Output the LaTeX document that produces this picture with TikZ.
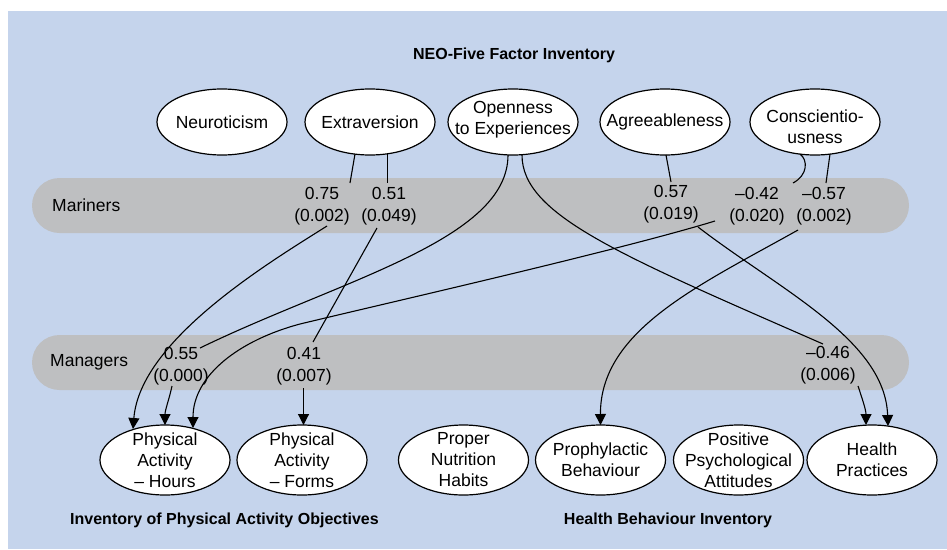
\documentclass[tikz,border=0pt]{standalone}
\usepackage{fontspec}
\setmainfont{Liberation Sans}
\usetikzlibrary{shapes.geometric,arrows.meta}
\definecolor{panelblue}{RGB}{197,212,236}
\definecolor{bandgray}{RGB}{190,191,193}
\begin{document}
\begin{tikzpicture}[x=1pt,y=-1pt,
  txt/.style={font=\fontsize{17.5}{21}\selectfont, inner sep=0pt, align=center},
  coef/.style={font=\fontsize{17.5}{22}\selectfont, inner sep=0pt, align=center},
  ttl/.style={font=\fontsize{16}{19}\selectfont\bfseries, inner sep=0pt},
  trait/.style={ellipse, draw=black, fill=white, line width=1.2pt,
    minimum width=130pt, minimum height=66pt, inner sep=0pt},
  outcome/.style={trait, minimum height=70pt},
  band/.style={fill=bandgray, rounded corners=27.5pt, minimum width=877pt,
    minimum height=55pt, inner sep=0pt},
  link/.style={line width=1.1pt},
  arr/.style={link, -{Triangle[length=11pt,width=11pt]}},
]
\useasboundingbox (0,0) rectangle (947,549);
\fill[panelblue] (8,11) rectangle (947,549);

% group bands
\node[band] (marband) at (470.5,205.5) {};
\node[band] (manband) at (470.5,362.5) {};
\node[txt, anchor=west] (marlbl) at (52,205) {Mariners};
\node[txt, anchor=west] (manlbl) at (50,362) {Managers};

% titles
\node[ttl] (neo) at (514,55) {NEO-Five Factor Inventory};
\node[ttl] (ipao) at (224.5,520) {Inventory of Physical Activity Objectives};
\node[ttl] (hbi) at (668,520) {Health Behaviour Inventory};

% personality traits
\node[trait, label={[txt]center:Neuroticism}] (neu) at (222,122) {};
\node[trait, label={[txt]center:Extraversion}] (ext) at (370,122) {};
\node[trait, label={[txt,yshift=2pt]center:{Openness\\to Experiences}}] (opn) at (513,122) {};
\node[trait, label={[txt]center:Agreeableness}] (agr) at (665,122) {};
\node[trait, label={[txt,yshift=-4.5pt]center:{Conscientio-\\usness}}] (con) at (815,122) {};

% outcome scales
\node[outcome, label={[txt]center:{Physical\\Activity\\– Hours}}] (hours) at (165,460) {};
\node[outcome, label={[txt]center:{Physical\\Activity\\– Forms}}] (forms) at (302,460) {};
\node[outcome, label={[txt]center:{Proper\\Nutrition\\Habits}}] (nutr) at (463.5,460) {};
\node[outcome, label={[txt]center:{Prophylactic\\Behaviour}}] (proph) at (600.5,460) {};
\node[outcome, label={[txt]center:{Positive\\Psychological\\Attitudes}}] (posi) at (738.5,460) {};
\node[outcome, label={[txt]center:{Health\\Practices}}] (prac) at (872,460) {};

% coefficients (p-values)
\node[coef] (c075) at (322,206) {0.75\\(0.002)};
\node[coef] (c051) at (389,206) {0.51\\(0.049)};
\node[coef] (c057) at (671,204) {0.57\\(0.019)};
\node[coef] (c042) at (757,206) {–0.42\\(0.020)};
\node[coef] (c057n) at (824,206) {–0.57\\(0.002)};
\node[coef] (c055) at (181,366) {0.55\\(0.000)};
\node[coef] (c041) at (304,366) {0.41\\(0.007)};
\node[coef] (c046) at (828,365) {–0.46\\(0.006)};

% Extraversion
\draw[link] ([shift={(-15,32)}]ext.center) -- ([shift={(28,-23)}]c075.center);
\draw[arr] ([shift={(5,20)}]c075.center) .. controls (270,262) and (140,340) .. ([shift={(-32,-31)}]hours.center);
\draw[link] ([shift={(17.5,32)}]ext.center) -- ([shift={(-1.5,-23)}]c051.center);
\draw[link] ([shift={(-12,22)}]c051.center) -- ([shift={(9,-24)}]c041.center);
\draw[arr] ([shift={(-0.5,22)}]c041.center) -- ([shift={(1.5,-35)}]forms.center);

% Openness to Experiences
\draw[link] ([shift={(-5,33)}]opn.center) .. controls (508,240) and (340,280) .. ([shift={(19,-18)}]c055.center);
\draw[arr] ([shift={(-9,20)}]c055.center) .. controls (169,400) and (165,410) .. ([shift={(0,-35)}]hours.center);
\draw[link] ([shift={(9,33)}]opn.center) .. controls (522,215) and (620,255) .. ([shift={(-5,-21)}]c046.center);
\draw[arr] ([shift={(30,21)}]c046.center) .. controls (862,398) and (866,410) .. ([shift={(-6,-35)}]prac.center);

% Agreeableness
\draw[link] ([shift={(1,33)}]agr.center) -- ([shift={(0,-22)}]c057.center);
\draw[arr] ([shift={(27,23)}]c057.center) .. controls (780,290) and (885,340) .. ([shift={(16,-34)}]prac.center);

% Conscientiousness
\draw[link] ([shift={(-15,32)}]con.center) .. controls (808,160) and (808,175) .. ([shift={(36,-23)}]c042.center);
\draw[arr] ([shift={(-42,15)}]c042.center) .. controls (620,250) and (400,300) .. (300,324)
  .. controls (240,340) and (193,375) .. ([shift={(28,-32)}]hours.center);
\draw[link] ([shift={(15,32)}]con.center) -- ([shift={(2,-23)}]c057n.center);
\draw[arr] ([shift={(-26,24)}]c057n.center) .. controls (700,285) and (600,330) .. ([shift={(0,-35)}]proph.center);
\end{tikzpicture}
\end{document}
